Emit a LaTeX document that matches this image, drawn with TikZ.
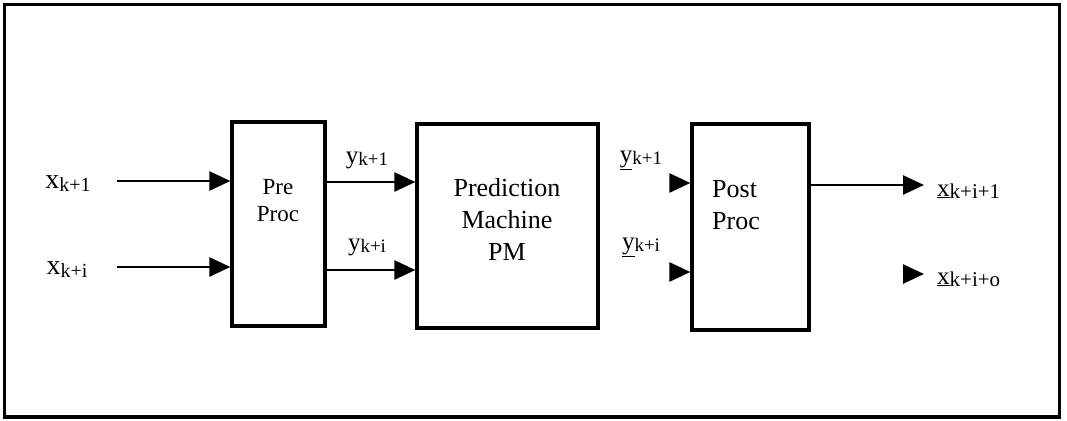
\documentclass[tikz,border=0pt]{standalone}
\usepackage{fontspec}
\setmainfont{Liberation Serif}
\usetikzlibrary{arrows.meta}
\newcommand{\fs}[1]{\fontsize{#1}{#1}\selectfont}
\newcommand{\xlab}[2]{{\fs{28}#1}\raisebox{-3pt}{\fs{20}#2}}
\newcommand{\ylab}[2]{{\fs{25}#1}\raisebox{-2pt}{\fs{19}#2}}
\newcommand{\olab}[2]{{\fs{25}#1}\raisebox{-2pt}{\fs{21}#2}}
\tikzset{
  blk/.style={draw, line width=3.2pt, inner sep=0pt},
  arr/.style={line width=2.6pt, -{Triangle[length=21pt,width=19pt]}},
  lbl/.style={inner sep=0pt, anchor=center},
  btxt/.style={inner sep=0pt, align=center, font=\fontsize{26}{32}\selectfont}
}
\begin{document}
\begin{tikzpicture}[x=1pt,y=-1pt]
\useasboundingbox (0,0) rectangle (1067,420);
\draw[line width=3.5pt] (4.5,4.5) rectangle (1059.5,417);
% blocks
\node[blk, minimum width=93pt, minimum height=204pt] (pre) at (278.5,224) {};
\node[blk, minimum width=181pt, minimum height=204pt] (pm) at (507.5,226) {};
\node[blk, minimum width=117pt, minimum height=206pt] (post) at (750.5,227) {};
% block texts
\node[btxt, font=\fontsize{23}{27}\selectfont] (pret) at (278,201) {Pre\\Proc};
\node[btxt] (pmt) at (507,219) {Prediction\\Machine\\PM};
\node[btxt, align=left, anchor=west] (postt) at (712,205) {Post\\Proc};
% input labels
\node[lbl] (x1) at (68,184) {\xlab{x}{k+1}};
\node[lbl] (xi) at (67,270) {\xlab{x}{k+i}};
% coordinates for arrow starts
\coordinate (s1) at (117,181);
\coordinate (si) at (117,267);
\draw[arr] (s1) -- (s1 -| pre.west);
\draw[arr] (si) -- (si -| pre.west);
% y arrows
\coordinate (y1) at (0,182);
\coordinate (yi) at (0,270);
\draw[arr] (y1 -| pre.east) -- (y1 -| pm.west);
\draw[arr] (yi -| pre.east) -- (yi -| pm.west);
\node[lbl] (yl1) at (367,160) {\ylab{y}{k+1}};
\node[lbl] (yli) at (367,247) {\ylab{y}{k+i}};
% post inputs (arrowheads only)
\coordinate (p1) at (670,183);
\coordinate (pi) at (670,272);
\draw[arr] (p1) -- (p1 -| post.west);
\draw[arr] (pi) -- (pi -| post.west);
\node[lbl] (Yl1) at (641,160) {\ylab{\underline{y}}{k+1}};
\node[lbl] (Yli) at (641,247) {\ylab{\underline{y}}{k+i}};
% outputs
\coordinate (o1) at (924,185);
\draw[arr] (o1 -| post.east) -- (o1);
\coordinate (o2a) at (903,274);
\coordinate (o2b) at (924,274);
\draw[arr] (o2a) -- (o2b);
\node[lbl, anchor=west] (ol1) at (937,191) {\olab{\underline{x}}{k+i+1}};
\node[lbl, anchor=west] (ol2) at (937,279) {\olab{\underline{x}}{k+i+o}};
\end{tikzpicture}
\end{document}
